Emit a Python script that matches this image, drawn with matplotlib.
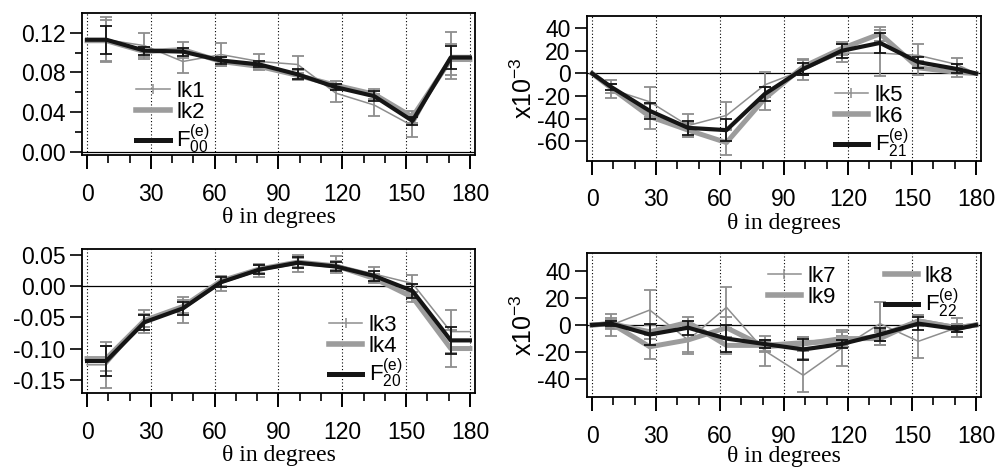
import matplotlib
matplotlib.use("Agg")
import matplotlib.pyplot as plt
from matplotlib.lines import Line2D
import numpy as np

plt.rcParams['font.family'] = ['Liberation Sans', 'DejaVu Sans']
plt.rcParams['axes.unicode_minus'] = False
plt.rcParams['mathtext.fontset'] = 'custom'
plt.rcParams['mathtext.rm'] = 'Liberation Sans'
plt.rcParams['mathtext.it'] = 'Liberation Sans'

nan = np.nan
theta = [0, 9, 27, 45, 63, 81, 99, 117, 135, 153, 171, 180]

# panel 1: F00
lk1 = [0.113, 0.113, 0.107, 0.091, 0.098, 0.091, 0.088, 0.059, 0.047, 0.026, 0.097, 0.097]
lk1_err = [nan, 0.023, 0.013, 0.0115, 0.012, 0.008, 0.009, 0.009, 0.011, 0.011, 0.024, nan]
lk2 = [0.112, 0.112, 0.101, 0.103, 0.091, 0.086, 0.077, 0.067, 0.058, 0.035, 0.093, 0.093]
lk2_err = [nan, 0.021, 0.005, 0.008, 0.005, 0.004, 0.005, 0.004, 0.005, 0.006, 0.016, nan]
f00 = [0.113, 0.113, 0.102, 0.101, 0.092, 0.088, 0.078, 0.065, 0.056, 0.031, 0.095, 0.095]
f00_err = [nan, 0.014, 0.004, 0.004, 0.004, 0.003, 0.005, 0.003, 0.005, 0.004, 0.012, nan]

# panel 2: F21 (x10^-3)
lk5 = [0, -14, -25, -46, -37, -10, 3, 18, 18, 16, 8, 0]
lk5_err = [nan, 8, 13, 10, 12, 11, 9, 8, 20, 10, 6, nan]
lk6 = [0, -13, -38, -50, -61, -22, 6, 22, 35, 5, 1, 0]
lk6_err = [nan, 4, 11, 6, 11, 10, 7, 6, 6, 6, 4, nan]
f21 = [0, -12, -33, -48, -50, -18, 4, 20, 27, 10, 4, 0]
f21_err = [nan, 3, 7, 6, 10, 6, 5, 6, 9, 5, 4, nan]

# panel 3: F20
lk3 = [-0.126, -0.126, -0.057, -0.038, 0.004, 0.025, 0.036, 0.034, 0.019, 0.004, -0.073, -0.073]
lk3_err = [nan, 0.037, 0.018, 0.021, 0.012, 0.010, 0.013, 0.013, 0.012, 0.013, 0.034, nan]
lk4 = [-0.116, -0.116, -0.055, -0.033, 0.008, 0.027, 0.038, 0.032, 0.012, -0.018, -0.100, -0.100]
lk4_err = [nan, 0.02, 0.01, 0.01, 0.008, 0.007, 0.007, 0.007, 0.007, 0.008, 0.03, nan]
f20 = [-0.120, -0.120, -0.058, -0.036, 0.006, 0.026, 0.037, 0.031, 0.016, -0.008, -0.087, -0.087]
f20_err = [nan, 0.024, 0.012, 0.010, 0.008, 0.007, 0.009, 0.007, 0.008, 0.011, 0.022, nan]

# panel 4: F22 (x10^-3)
lk7 = [0, 0, 11, -11, 13, -19, -37, -17, 1, -12, -2, 0]
lk7_err = [nan, 8, 15, 10, 15, 11, 12, 13, 16, 12, 7, nan]
lk8 = [0, 1, -5, 2, -15, -15, -13, -12, -8, 3, -2, 0]
lk8_err = [nan, 3, 5, 4, 6, 4, 4, 4, 4, 4, 3, nan]
lk9 = [0, 1, -16, -11, -2, -16, -14, -10, -10, 3, -2, 0]
lk9_err = [nan, 4, 9, 9, 8, 4, 5, 5, 5, 4, 3, nan]
f22 = [0, 1, -7, -2, -10, -14, -18, -14, -7, 1, -3, 0]
f22_err = [nan, 2, 8, 5, 10, 3, 8, 3, 5, 5, 2, nan]

GRAY = '#8e8e8e'
THIN = dict(color=GRAY, lw=1.1, ecolor=GRAY, elinewidth=1.3, capsize=4, capthick=1.3, zorder=3)
THICK = dict(color='#9c9c9c', lw=3.6, ecolor=GRAY, elinewidth=1.3, capsize=4, capthick=1.3, zorder=4)
BLACK = dict(color='#151515', lw=3.0, ecolor='#151515', elinewidth=1.3, capsize=4, capthick=1.3, zorder=5)

fig = plt.figure(figsize=(9.96, 4.68), dpi=100)


def setup(ax, ylim, yticks, fmt, minor=None, labelpad=1):
    ax.set_xlim(-2.4, 182.4)
    ax.set_ylim(*ylim)
    for v in range(0, 181, 30):
        ax.axvline(v, color='k', ls=(0, (1, 2)), lw=0.8, zorder=1)
    ax.axhline(0, color='k', lw=0.9, zorder=2)
    ax.set_xticks(range(0, 181, 30))
    ax.set_xticks(range(0, 181, 10), minor=True)
    ax.set_yticks(yticks)
    ax.set_yticklabels([fmt % v for v in yticks])
    if minor is not None:
        ax.set_yticks(minor, minor=True)
    else:
        ax.set_yticks([], minor=True)
    ax.tick_params(axis='x', which='major', length=10, width=1.4, pad=10, labelsize=16.5)
    ax.tick_params(axis='x', which='minor', length=6, width=1.2)
    ax.tick_params(axis='y', which='major', length=9, width=1.2, pad=3, labelsize=16.5)
    ax.tick_params(axis='y', which='minor', length=5, width=1.2)
    for s in ax.spines.values():
        s.set_linewidth(1.3)
    ax.set_xlabel('θ in degrees', family='Liberation Serif', fontsize=17, labelpad=labelpad)


def series(ax, y, err, style):
    ax.errorbar(theta, y, yerr=err, **style)


def handles(n_thick):
    hs = [Line2D([], [], color=GRAY, lw=1.1, marker='|', markersize=7, markeredgewidth=1.1)]
    hs += [Line2D([], [], color='#9c9c9c', lw=4.0) for _ in range(n_thick)]
    hs += [Line2D([], [], color='#151515', lw=3.6)]
    return hs


LEG = dict(loc='upper left', frameon=False, fontsize=16, handlelength=1.5,
           handletextpad=0.3, labelspacing=0.0, borderpad=0)

# top left
ax1 = fig.add_axes([0.0823, 0.6688, 0.3946, 0.3034])
setup(ax1, (-0.0035, 0.140), [0.00, 0.04, 0.08, 0.12], '%.2f', minor=[0.02, 0.06, 0.10])
series(ax1, lk1, lk1_err, THIN)
series(ax1, lk2, lk2_err, THICK)
series(ax1, f00, f00_err, BLACK)
ax1.legend(handles(1), ['lk1', 'lk2', r'F$_{00}^{(e)}$'], bbox_to_anchor=(0.11, 0.6), **LEG)

# top right
ax2 = fig.add_axes([0.5894, 0.6566, 0.3956, 0.3098])
setup(ax2, (-77, 51), [-60, -40, -20, 0, 20, 40], '%d')
series(ax2, lk5, lk5_err, THIN)
series(ax2, lk6, lk6_err, THICK)
series(ax2, f21, f21_err, BLACK)
ax2.set_ylabel('x10$^{-3}$', fontsize=18, labelpad=0)
ax2.legend(handles(1), ['lk5', 'lk6', r'F$_{21}^{(e)}$'], bbox_to_anchor=(0.6, 0.6), **LEG)

# bottom left
ax3 = fig.add_axes([0.0823, 0.1603, 0.3946, 0.3077])
setup(ax3, (-0.171, 0.059), [-0.15, -0.10, -0.05, 0.00, 0.05], '%.2f')
series(ax3, lk3, lk3_err, THIN)
series(ax3, lk4, lk4_err, THICK)
series(ax3, f20, f20_err, BLACK)
ax3.legend(handles(1), ['lk3', 'lk4', r'F$_{20}^{(e)}$'], bbox_to_anchor=(0.6, 0.62), **LEG)

# bottom right
ax4 = fig.add_axes([0.5894, 0.1517, 0.3956, 0.3077])
setup(ax4, (-53, 53), [-40, -20, 0, 20, 40], '%d', labelpad=-1)
series(ax4, lk7, lk7_err, THIN)
series(ax4, lk8, lk8_err, THICK)
series(ax4, lk9, lk9_err, THICK)
series(ax4, f22, f22_err, BLACK)
ax4.set_ylabel('x10$^{-3}$', fontsize=18, labelpad=0)
h = handles(2)
ax4.legend([h[0], h[2], h[1], h[3]], ['lk7', 'lk9', 'lk8', r'F$_{22}^{(e)}$'],
           bbox_to_anchor=(0.43, 0.99), ncol=2, columnspacing=2.2, **LEG)

fig.savefig('out.png', dpi=100)
